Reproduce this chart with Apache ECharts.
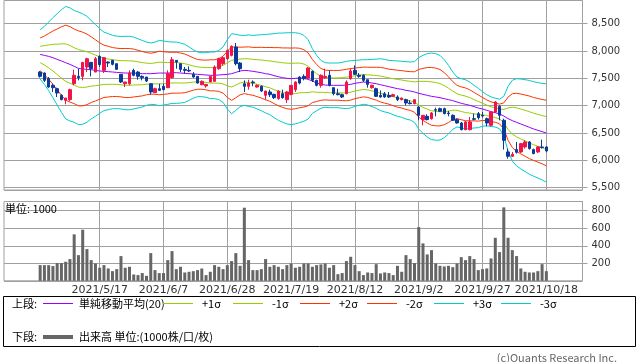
<!DOCTYPE html>
<html><head><meta charset="utf-8">
<script src="https://cdn.jsdelivr.net/npm/echarts@6/dist/echarts.min.js"></script>
<style>html,body{margin:0;padding:0;background:#fff;}#c{width:638px;height:362px;}</style>
</head><body><div id="c"></div>
<script>
const dates = [
'2021/4/21','2021/4/22','2021/4/23','2021/4/26','2021/4/27','2021/4/28','2021/4/30',
'2021/5/6','2021/5/7','2021/5/10','2021/5/11','2021/5/12','2021/5/13','2021/5/14',
'2021/5/17','2021/5/18','2021/5/19','2021/5/20','2021/5/21','2021/5/24','2021/5/25','2021/5/26','2021/5/27','2021/5/28','2021/5/31',
'2021/6/1','2021/6/2','2021/6/3','2021/6/4','2021/6/7','2021/6/8','2021/6/9','2021/6/10','2021/6/11',
'2021/6/14','2021/6/15','2021/6/16','2021/6/17','2021/6/18','2021/6/21','2021/6/22','2021/6/23','2021/6/24','2021/6/25',
'2021/6/28','2021/6/29','2021/6/30','2021/7/1','2021/7/2','2021/7/5','2021/7/6','2021/7/7','2021/7/8','2021/7/9',
'2021/7/12','2021/7/13','2021/7/14','2021/7/15','2021/7/16','2021/7/19','2021/7/20','2021/7/21',
'2021/7/26','2021/7/27','2021/7/28','2021/7/29','2021/7/30','2021/8/2','2021/8/3','2021/8/4','2021/8/5','2021/8/6',
'2021/8/10','2021/8/11','2021/8/12','2021/8/13','2021/8/16','2021/8/17','2021/8/18','2021/8/19','2021/8/20',
'2021/8/23','2021/8/24','2021/8/25','2021/8/26','2021/8/27','2021/8/30','2021/8/31','2021/9/1','2021/9/2','2021/9/3',
'2021/9/6','2021/9/7','2021/9/8','2021/9/9','2021/9/10','2021/9/13','2021/9/14','2021/9/15','2021/9/16','2021/9/17',
'2021/9/21','2021/9/22','2021/9/24','2021/9/27','2021/9/28','2021/9/29','2021/9/30','2021/10/1',
'2021/10/4','2021/10/5','2021/10/6','2021/10/7','2021/10/8','2021/10/11','2021/10/12','2021/10/13','2021/10/14','2021/10/15','2021/10/18'
];
const tickDates = ['2021/5/17','2021/6/7','2021/6/28','2021/7/19','2021/8/12','2021/9/2','2021/9/27','2021/10/18'];
// [open, close, low, high]
const ohlc = [
[7616,7537,7513,7635],[7598,7464,7434,7610],[7495,7342,7330,7525],[7373,7330,7251,7403],[7312,7233,7160,7330],
[7190,7111,7099,7208],[7099,7141,7025,7141],[7111,7294,7086,7312],[7403,7556,7373,7659],[7537,7513,7464,7677],
[7537,7793,7464,7799],[7708,7860,7616,7879],[7793,7677,7537,7793],[7616,7860,7616,7891],[7903,7751,7708,7921],
[7647,7879,7598,7891],[7799,7781,7708,7811],[7830,7757,7738,7842],[7769,7665,7665,7769],[7574,7434,7415,7574],
[7403,7434,7342,7434],[7403,7598,7373,7647],[7647,7556,7537,7677],[7616,7537,7476,7635],[7537,7513,7464,7556],
[7525,7452,7434,7525],[7403,7251,7202,7403],[7239,7312,7233,7330],[7312,7281,7269,7403],[7355,7294,7281,7403],
[7330,7586,7324,7647],[7513,7842,7495,7891],[7830,7799,7677,7830],[7769,7665,7616,7769],[7665,7647,7586,7708],
[7647,7635,7616,7720],[7574,7525,7513,7616],[7537,7415,7403,7537],[7385,7446,7373,7464],[7361,7391,7330,7391],
[7434,7537,7434,7537],[7446,7708,7434,7738],[7677,7860,7659,7879],[7769,7879,7738,7891],[7860,8013,7842,8025],
[7921,8086,7903,8104],[8073,7769,7738,8147],[7781,7677,7616,7799],[7403,7355,7251,7464],[7355,7415,7294,7476],
[7434,7422,7355,7464],[7342,7373,7330,7391],[7355,7269,7251,7373],[7190,7269,7111,7269],[7251,7202,7160,7294],
[7208,7147,7123,7220],[7129,7269,7111,7281],[7220,7147,7129,7294],[7111,7251,7050,7269],[7208,7373,7190,7373],
[7294,7434,7251,7446],[7525,7415,7391,7537],[7537,7495,7464,7574],[7507,7690,7495,7708],[7629,7464,7434,7647],
[7464,7373,7355,7476],[7373,7556,7330,7574],[7513,7537,7495,7677],[7556,7373,7355,7647],[7330,7220,7190,7330],
[7220,7202,7190,7312],[7202,7160,7141,7220],[7220,7434,7208,7464],[7495,7635,7476,7677],[7647,7574,7574,7738],
[7556,7537,7513,7598],[7556,7464,7434,7574],[7476,7391,7330,7476],[7330,7373,7312,7385],[7312,7172,7160,7330],
[7190,7160,7147,7281],[7220,7160,7147,7251],[7190,7160,7141,7251],[7172,7202,7160,7220],[7160,7111,7086,7190],
[7111,7141,7099,7147],[7111,7050,7007,7129],[7050,7038,7025,7099],[7038,7111,7025,7111],[6977,6824,6733,6989],
[6745,6824,6642,6824],[6806,6745,6733,6843],[6763,6867,6745,6885],[6928,6916,6806,6965],[6946,6898,6885,6965],
[6946,6855,6843,6965],[6867,6855,6806,6904],[6824,6733,6721,6843],[6745,6684,6672,6763],[6684,6562,6550,6703],
[6562,6703,6550,6721],[6562,6703,6550,6794],[6763,6751,6733,6855],[6855,6782,6745,6885],[6824,6812,6782,6885],
[6763,6684,6623,6782],[6642,6885,6623,6904],[6885,7068,6867,7086],[6989,6824,6733,7007],[6733,6367,6197,6763],
[6154,6075,6032,6215],[6075,6112,6063,6154],[6197,6148,6124,6337],[6154,6307,6136,6319],[6246,6337,6215,6367],
[6337,6215,6197,6355],[6197,6124,6112,6215],[6154,6246,6136,6258],[6246,6234,6215,6380],[6246,6173,6148,6258]
];
const volume = [
179,179,179,168,202,202,217,248,530,293,
583,362,236,198,149,179,141,110,133,282,
149,160,72,65,88,57,316,122,88,88,
236,339,133,160,95,103,110,122,140,65,
103,179,160,133,179,225,316,171,834,236,
122,122,133,248,160,179,160,133,179,198,
149,160,198,198,160,179,187,198,149,179,
76,88,225,274,179,110,65,95,88,190,
84,95,88,65,171,103,293,248,202,613,
427,301,350,198,171,164,171,156,198,270,
236,282,248,122,133,141,255,491,328,838,
491,350,282,141,103,95,95,110,190,110
];
const sma20 = [
7939,7921,7903,7879,7848,7818,7787,7757,7720,7684,
7671,7665,7659,7647,7635,7629,7623,7617,7610,7604,
7598,7598,7598,7592,7586,7586,7586,7592,7598,7598,
7598,7604,7604,7598,7592,7586,7580,7574,7568,7562,
7556,7556,7562,7568,7574,7586,7610,7635,7647,7641,
7629,7617,7604,7586,7574,7550,7531,7513,7501,7495,
7501,7507,7501,7482,7452,7415,7391,7379,7373,7373,
7373,7373,7379,7391,7409,7422,7434,7428,7415,7403,
7385,7367,7348,7330,7312,7300,7281,7269,7251,7227,
7208,7190,7172,7160,7147,7129,7111,7093,7068,7044,
7025,7007,6983,6958,6940,6916,6891,6873,6849,6812,
6763,6727,6696,6666,6636,6605,6575,6550,6526,6501
];
const sigma = [
150,177,209,244,278,313,343,345,341,343,
337,323,300,280,258,239,232,224,221,221,
224,224,219,211,203,193,187,191,199,195,
191,187,187,183,177,163,148,136,134,136,
142,142,150,169,211,244,232,218,213,218,
219,225,232,239,246,256,266,272,278,280,
278,272,262,242,197,169,146,136,136,136,
136,140,144,144,140,138,136,138,144,150,
158,160,160,165,169,171,175,177,185,218,
238,254,264,264,258,238,209,175,152,150,
150,142,130,120,105,95,90,88,90,120,
197,246,266,274,280,286,288,291,294,300
];
const bandDefs = [
  {name:'-3σ', k:-3, color:'#00cccc'},
  {name:'+3σ', k:3, color:'#00cccc'},
  {name:'-2σ', k:-2, color:'#ff3300'},
  {name:'+2σ', k:2, color:'#ff3300'},
  {name:'-1σ', k:-1, color:'#99cc00'},
  {name:'+1σ', k:1, color:'#99cc00'},
  {name:'単純移動平均(20)', k:0, color:'#9900ff'}
];
const PAD = 8;
const padL = Array.from({length:PAD}, (_, i) => 'pl' + i);
const padR = Array.from({length:PAD}, (_, i) => 'pr' + i);
const cats = padL.concat(dates, padR);
const blank = Array(PAD).fill('-');
function padArr(a){ return blank.concat(a, blank); }

const chart = echarts.init(document.getElementById('c'), null, {renderer:'canvas'});
const gridColor = '#a0a0a0';
const vLines = {
  silent:true, symbol:['none','none'], z:1, animation:false,
  label:{show:false}, lineStyle:{color:gridColor, type:'solid', width:1},
  data: tickDates.map(d => ({xAxis:d}))
};
const series = [];
bandDefs.forEach((b, i) => {
  const s = {
    type:'line', name:b.name, xAxisIndex:0, yAxisIndex:0, symbol:'none', z:2,
    lineStyle:{color:b.color, width:1}, itemStyle:{color:b.color},
    data: padArr(sma20.map((m, j) => Math.round(m + b.k * sigma[j]))),
    animation:false
  };
  if (i === 0) s.markLine = vLines;
  series.push(s);
});
series.push({
  type:'candlestick', xAxisIndex:0, yAxisIndex:0, z:5, barWidth:3,
  data: padArr(ohlc).map(v => v === '-' ? ['-','-','-','-'] : v),
  itemStyle:{color:'#f0144a', color0:'#0a3a9a', borderColor:'#f0144a', borderColor0:'#0a3a9a', borderWidth:1},
  animation:false
});
series.push({
  type:'bar', xAxisIndex:1, yAxisIndex:1, barWidth:3, z:3,
  itemStyle:{color:'#666666'},
  data: padArr(volume),
  markLine: Object.assign({}, vLines),
  animation:false
});

const labelFont = {fontFamily:'DejaVu Sans', fontSize:10, color:'#333'};
const option = {
  animation:false,
  backgroundColor:'#fff',
  grid:[
    {left:4, right:55.5, top:0.5, height:189.5, show:true, borderColor:gridColor, borderWidth:1},
    {left:4, right:55.5, top:201.5, height:79.3, show:true, borderColor:gridColor, borderWidth:1}
  ],
  xAxis:[
    {type:'category', gridIndex:0, data:cats, boundaryGap:true,
     axisLine:{show:false}, axisTick:{show:false}, axisLabel:{show:false}, splitLine:{show:false}},
    {type:'category', gridIndex:1, data:cats, boundaryGap:true,
     axisLine:{show:false}, axisTick:{show:false}, splitLine:{show:false},
     axisLabel:{show:true, interval:(idx, val) => tickDates.indexOf(val) >= 0, margin:4,
       fontFamily:'DejaVu Sans', fontSize:11, color:'#333'}}
  ],
  yAxis:[
    {type:'value', gridIndex:0, position:'right', min:5458, max:8925, minInterval:500, maxInterval:500,
     axisLine:{show:false}, axisTick:{show:true, length:5, lineStyle:{color:gridColor}},
     splitLine:{show:true, lineStyle:{color:gridColor, width:1}},
     axisLabel:Object.assign({margin:9, showMinLabel:false, showMaxLabel:false,
       formatter:v => v.toLocaleString('en-US')}, labelFont)},
    {type:'value', gridIndex:1, position:'right', min:0, max:905, interval:200,
     axisLine:{show:false}, axisTick:{show:true, length:5, lineStyle:{color:gridColor}},
     splitLine:{show:true, lineStyle:{color:gridColor, width:1}},
     axisLabel:Object.assign({margin:9, showMinLabel:false, showMaxLabel:false}, labelFont)}
  ],
  series: series,
  graphic: []
};

const jp = '"Noto Sans CJK JP", sans-serif';
const g = [];
g.push({type:'text', left:5, top:203, z:100, style:{text:'単位: 1000', font:'11px ' + jp, fill:'#000'}});
g.push({type:'rect', z:100, shape:{x:3.5, y:296.5, width:632, height:50}, style:{fill:'rgba(0,0,0,0)', stroke:'#000', lineWidth:1}});
g.push({type:'text', z:100, x:12, y:303.5, style:{text:'上段:', font:'11px ' + jp, fill:'#000', verticalAlign:'middle', textVerticalAlign:'middle'}});
g.push({type:'text', z:100, x:12, y:337, style:{text:'下段:', font:'11px ' + jp, fill:'#000', verticalAlign:'middle', textVerticalAlign:'middle'}});
const legItems = [
  {x:43, label:'単純移動平均(20)', color:'#9900ff'},
  {x:163, label:'+1σ', color:'#99cc00'},
  {x:233, label:'-1σ', color:'#99cc00'},
  {x:300, label:'+2σ', color:'#ff3300'},
  {x:367, label:'-2σ', color:'#ff3300'},
  {x:434, label:'+3σ', color:'#00cccc'},
  {x:501, label:'-3σ', color:'#00cccc'}
];
legItems.forEach(it => {
  g.push({type:'rect', z:100, shape:{x:it.x, y:303, width:30, height:1}, style:{fill:it.color}});
  g.push({type:'text', z:100, x:it.x + (it.x === 43 ? 36 : 39), y:303.5, style:{text:it.label, font:'11px ' + jp, fill:'#000', verticalAlign:'middle', textVerticalAlign:'middle'}});
});
g.push({type:'rect', z:100, shape:{x:43, y:335, width:30, height:4}, style:{fill:'#666'}});
g.push({type:'text', z:100, x:79, y:337, style:{text:'出来高 単位:(1000株/口/枚)', font:'11px ' + jp, fill:'#000', verticalAlign:'middle', textVerticalAlign:'middle'}});
g.push({type:'text', z:100, x:617, y:357.5, style:{text:'(c)Quants Research Inc.', font:'11px ' + jp, fill:'#666', align:'right', textAlign:'right', verticalAlign:'middle', textVerticalAlign:'middle'}});
option.graphic = {elements: g};
chart.setOption(option);
</script>
</body></html>
